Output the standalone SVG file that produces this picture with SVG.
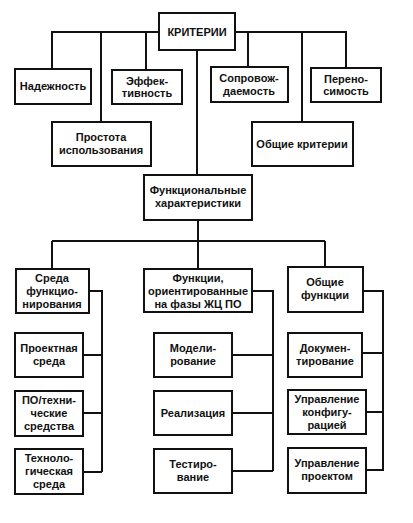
<svg xmlns="http://www.w3.org/2000/svg" width="413" height="523" viewBox="0 0 413 523">
<style>
rect{fill:#fff;stroke:#111;stroke-width:2}
.c path{fill:none;stroke:#111;stroke-width:2}
text{font-family:"Liberation Sans",Arial,sans-serif;font-weight:bold;font-size:11px;fill:#111;text-anchor:middle}
</style>
<rect x="0" y="0" width="413" height="523" style="stroke:none"/>
<g class="c">
<path d="M52 69V32H159M235 32H346V68M101 32V122M146 32V70M248 32V67M302 32V122"/>
<path d="M197 50V175M198 220V241M52 241H325M52 241V269M198 241V269M325 241V267"/>
<path d="M89 291H102V472M83 355H102M83 413H102M83 472H102"/>
<path d="M252 291H273V471M232 355H273M232 413H273M232 471H273"/>
<path d="M363 291H383V471M362 353H383M366 412H383M366 470H383"/>
</g>
<g id="kriterii"><rect x="159" y="13" width="76" height="37"/><text x="197" y="36">КРИТЕРИИ</text></g>
<g id="nadezhnost"><rect x="15" y="69" width="76" height="35"/><text x="53" y="90">Надежность</text></g>
<g id="effekt"><rect x="112" y="70" width="70" height="34"/><text x="147" y="85">Эффек-</text><text x="147" y="97">тивность</text></g>
<g id="soprov"><rect x="211" y="67" width="77" height="35"/><text x="249" y="82">Сопровож-</text><text x="249" y="95">даемость</text></g>
<g id="perenos"><rect x="311" y="68" width="70" height="34"/><text x="346" y="83">Перено-</text><text x="346" y="95">симость</text></g>
<g id="prostota"><rect x="52" y="122" width="99" height="44"/><text x="101" y="141">Простота</text><text x="101" y="154">использования</text></g>
<g id="obshie-krit"><rect x="252" y="122" width="101" height="44"/><text x="302" y="148">Общие критерии</text></g>
<g id="funkc-har"><rect x="144" y="175" width="108" height="45"/><text x="198" y="194">Функциональные</text><text x="198" y="207">характеристики</text></g>
<g id="sreda"><rect x="16" y="269" width="73" height="44"/><text x="52" y="282">Среда</text><text x="52" y="295">функцио-</text><text x="52" y="308">нирования</text></g>
<g id="funkcii"><rect x="144" y="269" width="108" height="43"/><text x="198" y="282">Функции,</text><text x="198" y="295">ориентированные</text><text x="198" y="308">на фазы ЖЦ ПО</text></g>
<g id="obshie-funkc"><rect x="288" y="267" width="75" height="45"/><text x="325" y="286">Общие</text><text x="325" y="299">функции</text></g>
<g id="proekt-sreda"><rect x="15" y="333" width="68" height="44"/><text x="49" y="352">Проектная</text><text x="49" y="365">среда</text></g>
<g id="po-tech"><rect x="15" y="391" width="68" height="45"/><text x="49" y="404">ПО/техни-</text><text x="49" y="417">ческие</text><text x="49" y="430">средства</text></g>
<g id="tech-sreda"><rect x="15" y="449" width="68" height="45"/><text x="49" y="462">Техноло-</text><text x="49" y="475">гическая</text><text x="49" y="488">среда</text></g>
<g id="model"><rect x="154" y="333" width="78" height="44"/><text x="193" y="352">Модели-</text><text x="193" y="365">рование</text></g>
<g id="realiz"><rect x="154" y="391" width="78" height="44"/><text x="193" y="417">Реализация</text></g>
<g id="testir"><rect x="154" y="449" width="78" height="44"/><text x="193" y="468">Тестиро-</text><text x="193" y="481">вание</text></g>
<g id="dokum"><rect x="288" y="333" width="74" height="44"/><text x="325" y="352">Докумен-</text><text x="325" y="365">тирование</text></g>
<g id="upr-konf"><rect x="288" y="390" width="78" height="44"/><text x="327" y="403">Управление</text><text x="327" y="416">конфигу-</text><text x="327" y="429">рацией</text></g>
<g id="upr-proekt"><rect x="288" y="448" width="78" height="45"/><text x="327" y="467">Управление</text><text x="327" y="480">проектом</text></g>
</svg>
